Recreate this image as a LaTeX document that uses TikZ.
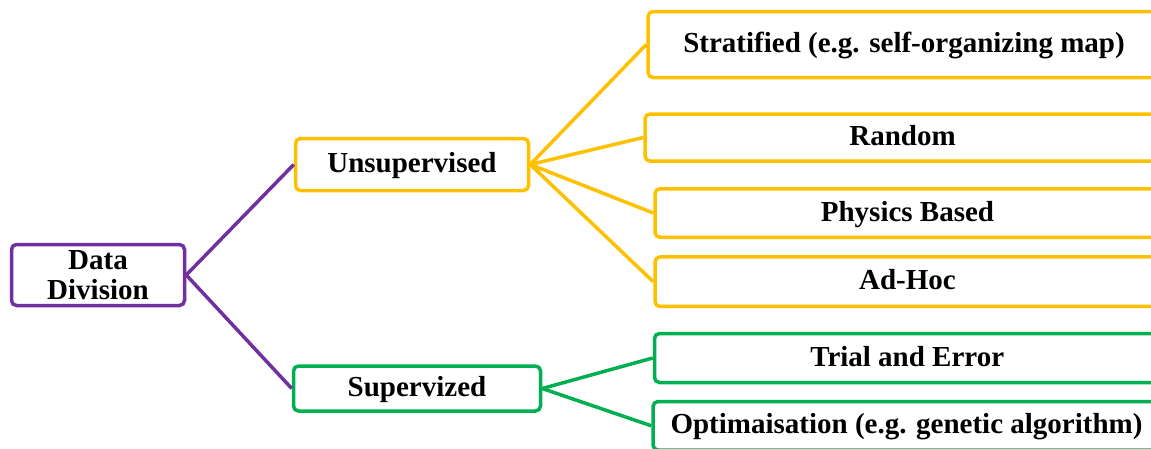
\documentclass[tikz,border=0pt]{standalone}
\usepackage{fontspec}
\setmainfont{Liberation Serif}
\definecolor{tpurple}{HTML}{7030A0}
\definecolor{tgold}{HTML}{FFC000}
\definecolor{tgreen}{HTML}{00B050}
\begin{document}
\begin{tikzpicture}[x=1pt,y=-1pt,
  box/.style={draw,line width=3.5pt,rounded corners=5pt,inner sep=0pt,
    fill=white,text=black,
    font=\fontsize{29}{30}\selectfont\bfseries,
    text height=21pt,text depth=5pt},
  link/.style={line width=3.5pt}]
\useasboundingbox (0,0) rectangle (1151,448);
\clip (0,0) rectangle (1151,448);
% root
\node[box,draw=tpurple,align=center,text height=,text depth=,
  minimum width=173pt,minimum height=61pt] (dd) at (98,275) {Data\\Division};
% first level
\node[box,draw=tgold,minimum width=233pt,minimum height=52pt] (uns) at (412,164.5) {Unsupervised};
\node[box,draw=tgreen,minimum width=247pt,minimum height=45pt] (sup) at (417,388.5) {Supervized};
% leaves (running off the right edge)
\node[box,draw=tgold,minimum width=512pt,minimum height=66pt] (strat) at (904,44.5) {Stratified (e.g. self-organizing map)};
\node[box,draw=tgold,minimum width=515pt,minimum height=47pt] (rand) at (902.5,137.5) {Random};
\node[box,draw=tgold,minimum width=505pt,minimum height=48.5pt] (phys) at (907.5,213) {Physics Based};
\node[box,draw=tgold,minimum width=505pt,minimum height=49.5pt] (adhoc) at (907.5,281.7) {Ad-Hoc};
\node[box,draw=tgreen,minimum width=505.5pt,minimum height=49pt] (trial) at (907.25,358) {Trial and Error};
\node[box,draw=tgreen,minimum width=507pt,minimum height=48.5pt] (optim) at (906.5,425.75) {Optimaisation (e.g. genetic algorithm)};
% connectors
\draw[link,tpurple] (dd.east) -- (uns.west);
\draw[link,tpurple] (dd.east) -- (sup.west);
\foreach \t in {strat,rand,phys,adhoc}
  \draw[link,tgold] (uns.east) -- (\t.west);
\foreach \t in {trial,optim}
  \draw[link,tgreen] (sup.east) -- (\t.west);
\end{tikzpicture}
\end{document}
